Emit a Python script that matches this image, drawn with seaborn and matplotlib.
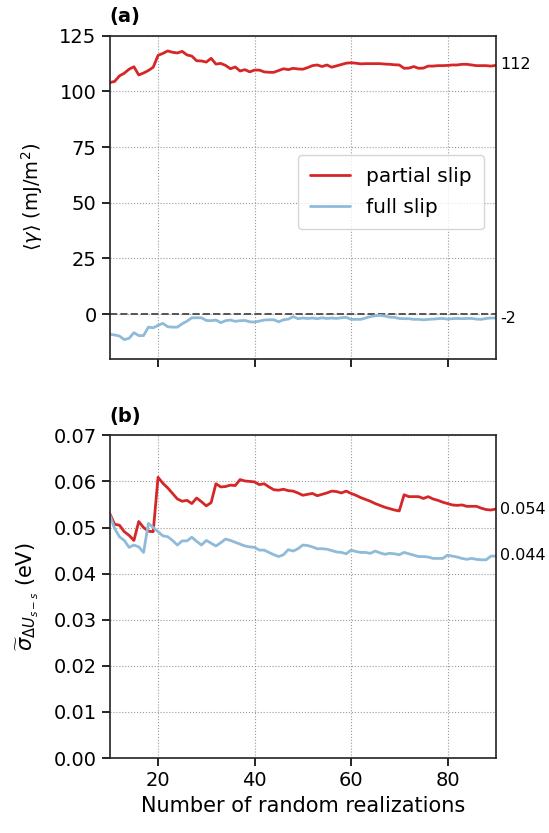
import numpy as np
import pandas as pd
import matplotlib
matplotlib.use("Agg")
import matplotlib.pyplot as plt
import seaborn as sns

sns.set_theme(style="ticks")
plt.rcParams['font.family'] = ['DejaVu Sans']
plt.rcParams['text.color'] = 'black'
plt.rcParams['axes.labelcolor'] = 'black'
plt.rcParams['xtick.color'] = 'black'
plt.rcParams['ytick.color'] = 'black'

# number of random realizations
n_real = list(range(10, 91))

# (a) mean GSFE <gamma> in mJ/m^2
gamma_partial = [104.0, 104.5, 107.0, 108.2, 110.0, 111.1, 107.4, 108.3, 109.4, 110.9,
                 116.2, 117.1, 118.2, 117.6, 117.3, 118.0, 116.4, 115.9, 113.8, 113.7,
                 113.2, 114.9, 112.3, 112.6, 111.7, 110.2, 111.0, 109.2, 109.8, 108.8,
                 109.6, 109.6, 108.8, 108.6, 108.6, 109.4, 110.2, 109.8, 110.4, 110.1,
                 110.0, 110.7, 111.6, 111.9, 111.2, 111.9, 110.9, 111.5, 112.1, 112.7,
                 112.9, 112.7, 112.4, 112.5, 112.5, 112.5, 112.5, 112.3, 112.2, 112.0,
                 111.9, 110.4, 110.5, 111.2, 110.4, 110.5, 111.4, 111.4, 111.6, 111.6,
                 111.7, 111.9, 111.9, 112.2, 112.2, 111.9, 111.6, 111.6, 111.6, 111.4,
                 111.7]
gamma_full = [-9.1, -9.4, -9.9, -11.5, -10.9, -8.4, -9.7, -9.7, -5.9, -6.2,
              -5.1, -4.2, -5.7, -5.9, -5.9, -4.4, -3.2, -1.7, -1.7, -1.7,
              -2.9, -3.0, -2.7, -3.9, -3.0, -2.7, -3.3, -3.0, -2.9, -3.5,
              -3.6, -3.2, -2.7, -2.6, -2.6, -3.5, -2.6, -2.3, -1.2, -2.1,
              -1.8, -2.0, -1.8, -2.1, -1.7, -2.0, -1.8, -2.0, -1.7, -1.5,
              -2.4, -2.4, -2.4, -1.8, -1.2, -0.8, -0.6, -0.9, -1.4, -1.5,
              -2.0, -2.1, -2.1, -2.4, -2.4, -2.6, -2.4, -2.3, -2.1, -2.0,
              -2.3, -2.1, -2.0, -2.1, -2.0, -2.0, -2.3, -2.4, -2.0, -1.8,
              -1.8]

# (b) normalized std of solute-solute interaction energy (eV)
sigma_partial = [0.0530, 0.0507, 0.0505, 0.0491, 0.0483, 0.0472, 0.0513, 0.0500, 0.0492, 0.0491,
                 0.0609, 0.0596, 0.0586, 0.0574, 0.0562, 0.0557, 0.0559, 0.0552, 0.0564, 0.0556,
                 0.0547, 0.0554, 0.0595, 0.0588, 0.0589, 0.0592, 0.0591, 0.0604, 0.0601, 0.0600,
                 0.0599, 0.0593, 0.0595, 0.0588, 0.0582, 0.0581, 0.0583, 0.0580, 0.0579, 0.0575,
                 0.0570, 0.0572, 0.0574, 0.0569, 0.0572, 0.0575, 0.0579, 0.0578, 0.0575, 0.0579,
                 0.0574, 0.0570, 0.0565, 0.0561, 0.0557, 0.0552, 0.0548, 0.0544, 0.0541, 0.0538,
                 0.0536, 0.0571, 0.0567, 0.0567, 0.0567, 0.0563, 0.0567, 0.0562, 0.0559, 0.0555,
                 0.0552, 0.0549, 0.0548, 0.0549, 0.0546, 0.0546, 0.0546, 0.0542, 0.0539, 0.0538,
                 0.0540]
sigma_full = [0.0527, 0.0498, 0.0480, 0.0472, 0.0457, 0.0462, 0.0458, 0.0446, 0.0509, 0.0500,
              0.0491, 0.0482, 0.0480, 0.0472, 0.0462, 0.0471, 0.0471, 0.0479, 0.0470, 0.0462,
              0.0472, 0.0466, 0.0460, 0.0467, 0.0475, 0.0472, 0.0468, 0.0464, 0.0460, 0.0458,
              0.0457, 0.0451, 0.0451, 0.0446, 0.0441, 0.0437, 0.0441, 0.0452, 0.0449, 0.0454,
              0.0462, 0.0461, 0.0458, 0.0454, 0.0454, 0.0453, 0.0450, 0.0447, 0.0446, 0.0443,
              0.0451, 0.0448, 0.0446, 0.0446, 0.0444, 0.0449, 0.0445, 0.0442, 0.0444, 0.0443,
              0.0441, 0.0446, 0.0443, 0.0440, 0.0437, 0.0437, 0.0436, 0.0433, 0.0433, 0.0433,
              0.0440, 0.0438, 0.0436, 0.0433, 0.0431, 0.0433, 0.0431, 0.0430, 0.0430, 0.0438,
              0.0438]

# converged values written at the right edge
gamma_ref = [112, -2]
gamma_labels = ["112", "-2"]
sigma_ref = [0.054, 0.044]
sigma_labels = ["0.054", "0.044"]

colors = {"partial slip": "#d62728", "full slip": "#8fbbd9"}

df_a = pd.DataFrame({
    "n": n_real * 2,
    "val": gamma_partial + gamma_full,
    "slip": ["partial slip"] * len(n_real) + ["full slip"] * len(n_real),
})
df_b = pd.DataFrame({
    "n": n_real * 2,
    "val": sigma_partial + sigma_full,
    "slip": ["partial slip"] * len(n_real) + ["full slip"] * len(n_real),
})

fig, (ax1, ax2) = plt.subplots(2, 1, figsize=(5.49, 8.33), dpi=100, sharex=True)
fig.subplots_adjust(left=0.2, right=0.903, top=0.957, bottom=0.09, hspace=0.238)

fs = 14

# panel (a)
sns.lineplot(data=df_a, x="n", y="val", hue="slip", palette=colors, lw=2, ax=ax1)
ax1.axhline(0, color="#555555", ls="--", lw=1.4, zorder=1)
ax1.set_ylim(-20, 125)
ax1.set_yticks([0, 25, 50, 75, 100, 125])
ax1.set_ylabel(r"$\langle\gamma\rangle$ (mJ/m$^2$)", fontsize=fs, labelpad=10)
ax1.set_xlabel("")
ax1.legend(loc="center right", bbox_to_anchor=(0.995, 0.515), fontsize=fs + 0.5,
           frameon=True, handlelength=2.0, labelspacing=0.6, borderpad=0.6)
ax1.text(0.0, 1.03, "(a)", transform=ax1.transAxes, fontweight="bold",
         fontsize=14, va="bottom")
for v, lab in zip(gamma_ref, gamma_labels):
    ax1.text(1.012, v, lab, transform=ax1.get_yaxis_transform(), fontsize=11.5,
             va="center", ha="left")

# panel (b)
sns.lineplot(data=df_b, x="n", y="val", hue="slip", palette=colors, lw=2, ax=ax2,
             legend=False)
ax2.set_ylim(0, 0.07)
ax2.set_yticks(np.arange(0, 0.071, 0.01))
ax2.set_yticklabels([f"{t:.2f}" for t in np.arange(0, 0.071, 0.01)])
ax2.set_ylabel(r"$\widetilde{\sigma}_{\Delta U_{s-s}}$ (eV)", fontsize=fs + 1, labelpad=9)
ax2.set_xlabel("Number of random realizations", fontsize=fs + 1)
ax2.text(0.0, 1.03, "(b)", transform=ax2.transAxes, fontweight="bold",
         fontsize=14, va="bottom")
for v, lab in zip(sigma_ref, sigma_labels):
    ax2.text(1.012, v, lab, transform=ax2.get_yaxis_transform(), fontsize=11.5,
             va="center", ha="left")

for ax in (ax1, ax2):
    ax.set_xlim(10, 90)
    ax.set_xticks([20, 40, 60, 80])
    ax.grid(True, color="#999999", ls=":", lw=0.8)
    ax.tick_params(labelsize=fs, length=6, width=1.2)
    for s in ax.spines.values():
        s.set_color("#222222")
        s.set_linewidth(1.2)

fig.savefig("out.png", dpi=100)
